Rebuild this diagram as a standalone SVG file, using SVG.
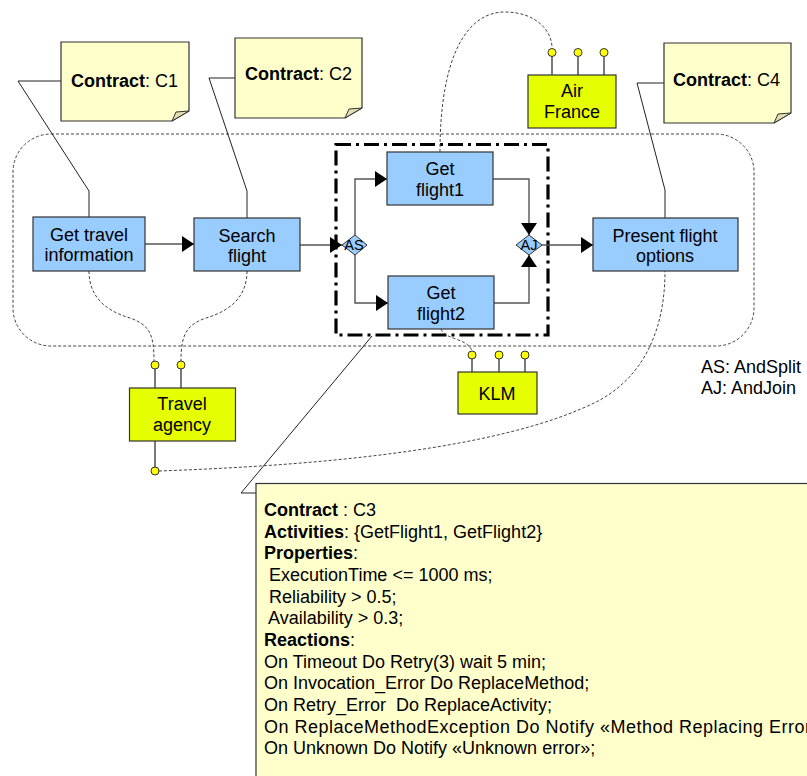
<svg xmlns="http://www.w3.org/2000/svg" width="807" height="776" viewBox="0 0 807 776">
<style>
text{font-family:"Liberation Sans",Arial,sans-serif;font-size:18px;fill:#000}
.c{text-anchor:middle}
.b{font-weight:bold}
.act{fill:#99CCFF;stroke:#333;stroke-width:1.2}
.svc{fill:#E6FF00;stroke:#333;stroke-width:1.2}
.note{fill:#FFFFCC;stroke:#333;stroke-width:1.2}
.fold{fill:#E3DFB0;stroke:#333;stroke-width:1}
.flow{fill:none;stroke:#555;stroke-width:1.4}
.lead{fill:none;stroke:#222;stroke-width:1}
.dot{fill:none;stroke:#444;stroke-width:1;stroke-dasharray:3,2}
.lp{fill:#FFFF00;stroke:#333;stroke-width:1}
.stem{stroke:#333;stroke-width:1.3}
.dia{fill:#99CCFF;stroke:#333;stroke-width:1}
.small{font-size:14.5px}
</style>
<defs>
<marker id="ah" markerUnits="userSpaceOnUse" markerWidth="13" markerHeight="16" refX="12" refY="8" orient="auto">
<path d="M0,0 L12,8 L0,16 Z" fill="#000"/>
</marker>
</defs>

<!-- region boundaries -->
<g id="process-boundary">
<rect x="13" y="134" width="741" height="212" rx="38" ry="38" class="dot"/>
</g>
<g id="scope-c3">
<rect x="336" y="144.5" width="212" height="190.5" fill="none" stroke="#000" stroke-width="3.2" stroke-dasharray="15,5,3,5"/>
</g>

<g id="connectors">
<!-- note leaders -->
<polyline class="lead" points="61,81 18,81 89,191 89,217"/>
<polyline class="lead" points="235,78 209,78 247,191 247,218"/>
<polyline class="lead" points="664,83 637,83 665,190 665,218"/>
<polyline class="lead" points="256,493 241,493 372,336"/>
<!-- flows -->
<line class="flow" x1="145" y1="244" x2="194" y2="244" marker-end="url(#ah)"/>
<line class="flow" x1="300" y1="245" x2="342" y2="245" marker-end="url(#ah)"/>
<polyline class="flow" points="355,235 355,179 387,179" marker-end="url(#ah)"/>
<polyline class="flow" points="355,255 355,303 388,303" marker-end="url(#ah)"/>
<polyline class="flow" points="493,179 529,179 529,235" marker-end="url(#ah)"/>
<polyline class="flow" points="494,303 529,303 529,255" marker-end="url(#ah)"/>
<line class="flow" x1="542" y1="245" x2="593" y2="245" marker-end="url(#ah)"/>
<!-- service bindings (dotted) -->
<path class="dot" d="M89,271 C89,300 110,312 130,318 C150,325 154,335 154,361"/>
<path class="dot" d="M247,271 C247,300 226,312 206,318 C186,325 181,335 181,361"/>
<path class="dot" d="M440,152 C440,60 465,12 505,12 C535,12 552,30 552,48"/>
<path class="dot" d="M441,329 C445,340 468,338 472,351"/>
<path class="dot" d="M159,471 C300,466 500,452 600,400 C650,372 665,320 665,271"/>
</g>

<g id="note-c1">
<path class="note" d="M61,42 H189 V111 L172,121 H61 Z"/>
<path class="fold" d="M172,121 L176,112 L189,111 Z"/>
<text x="71" y="87"><tspan class="b">Contract</tspan>: C1</text>
</g>
<g id="note-c2">
<path class="note" d="M235,38 H362 V108 L345,118 H235 Z"/>
<path class="fold" d="M345,118 L349,109 L362,108 Z"/>
<text x="245" y="80"><tspan class="b">Contract</tspan>: C2</text>
</g>
<g id="note-c4">
<path class="note" d="M664,43 H791 V113 L774,123 H664 Z"/>
<path class="fold" d="M774,123 L778,114 L791,113 Z"/>
<text x="673" y="86"><tspan class="b">Contract</tspan>: C4</text>
</g>

<g id="get-travel-information">
<rect class="act" x="33" y="217" width="112" height="54"/>
<text class="c" x="89" y="241">Get travel</text>
<text class="c" x="89" y="261">information</text>
</g>
<g id="search-flight">
<rect class="act" x="194" y="218" width="106" height="53"/>
<text class="c" x="247" y="242">Search</text>
<text class="c" x="247" y="262">flight</text>
</g>
<g id="and-split">
<path class="dia" d="M342,245 L355,235 L367,245 L355,255 Z"/>
<text class="c small" x="354" y="250">AS</text>
</g>
<g id="get-flight1">
<rect class="act" x="387" y="152" width="106" height="53"/>
<text class="c" x="440" y="175">Get</text>
<text class="c" x="440" y="196">flight1</text>
</g>
<g id="get-flight2">
<rect class="act" x="388" y="276" width="106" height="53"/>
<text class="c" x="441" y="299">Get</text>
<text class="c" x="441" y="320">flight2</text>
</g>
<g id="and-join">
<path class="dia" d="M516,245 L529,235 L542,245 L529,255 Z"/>
<text class="c small" x="529" y="250">AJ</text>
</g>
<g id="present-flight-options">
<rect class="act" x="593" y="218" width="145" height="53"/>
<text class="c" x="665" y="242">Present flight</text>
<text class="c" x="665" y="262">options</text>
</g>

<g id="air-france">
<line class="stem" x1="552" y1="57" x2="552" y2="75"/>
<line class="stem" x1="578" y1="57" x2="578" y2="75"/>
<line class="stem" x1="604" y1="57" x2="604" y2="75"/>
<circle class="lp" cx="552" cy="52.5" r="4"/>
<circle class="lp" cx="578" cy="52.5" r="4"/>
<circle class="lp" cx="604" cy="52.5" r="4"/>
<rect class="svc" x="528" y="75" width="88" height="53"/>
<text class="c" x="572" y="97">Air</text>
<text class="c" x="572" y="118">France</text>
</g>
<g id="klm">
<line class="stem" x1="472" y1="359" x2="472" y2="372"/>
<line class="stem" x1="499" y1="359" x2="499" y2="372"/>
<line class="stem" x1="525" y1="359" x2="525" y2="372"/>
<circle class="lp" cx="472" cy="355" r="4"/>
<circle class="lp" cx="499" cy="355" r="4"/>
<circle class="lp" cx="525" cy="355" r="4"/>
<rect class="svc" x="458" y="372" width="79" height="42"/>
<text class="c" x="497" y="400">KLM</text>
</g>
<g id="travel-agency">
<line class="stem" x1="155" y1="369" x2="155" y2="388"/>
<line class="stem" x1="181" y1="369" x2="181" y2="388"/>
<line class="stem" x1="155" y1="441" x2="155" y2="467"/>
<circle class="lp" cx="155" cy="365" r="4"/>
<circle class="lp" cx="181" cy="365" r="4"/>
<circle class="lp" cx="155" cy="471" r="4"/>
<rect class="svc" x="129.5" y="388" width="106" height="53"/>
<text class="c" x="182" y="410">Travel</text>
<text class="c" x="182" y="431">agency</text>
</g>

<g id="legend">
<text x="701" y="373">AS: AndSplit</text>
<text x="701" y="394">AJ: AndJoin</text>
</g>

<g id="note-c3">
<rect class="note" x="256" y="483.5" width="600" height="400"/>
<text x="264" y="516"><tspan class="b">Contract</tspan> : C3</text>
<text x="264" y="538"><tspan class="b">Activities</tspan>: {GetFlight1, GetFlight2}</text>
<text x="264" y="559"><tspan class="b">Properties</tspan>:</text>
<text x="264" y="581" xml:space="preserve"> ExecutionTime &lt;= 1000 ms;</text>
<text x="264" y="603" xml:space="preserve"> Reliability &gt; 0.5;</text>
<text x="264" y="624" xml:space="preserve"> Availability &gt; 0.3;</text>
<text x="264" y="646"><tspan class="b">Reactions</tspan>:</text>
<text x="264" y="668">On Timeout Do Retry(3) wait 5 min;</text>
<text x="264" y="689">On Invocation_Error Do ReplaceMethod;</text>
<text x="264" y="711" xml:space="preserve">On Retry_Error  Do ReplaceActivity;</text>
<text x="264" y="733" textLength="563" lengthAdjust="spacing">On ReplaceMethodException Do Notify «Method Replacing Error»;</text>
<text x="264" y="754">On Unknown Do Notify «Unknown error»;</text>
</g>
</svg>
